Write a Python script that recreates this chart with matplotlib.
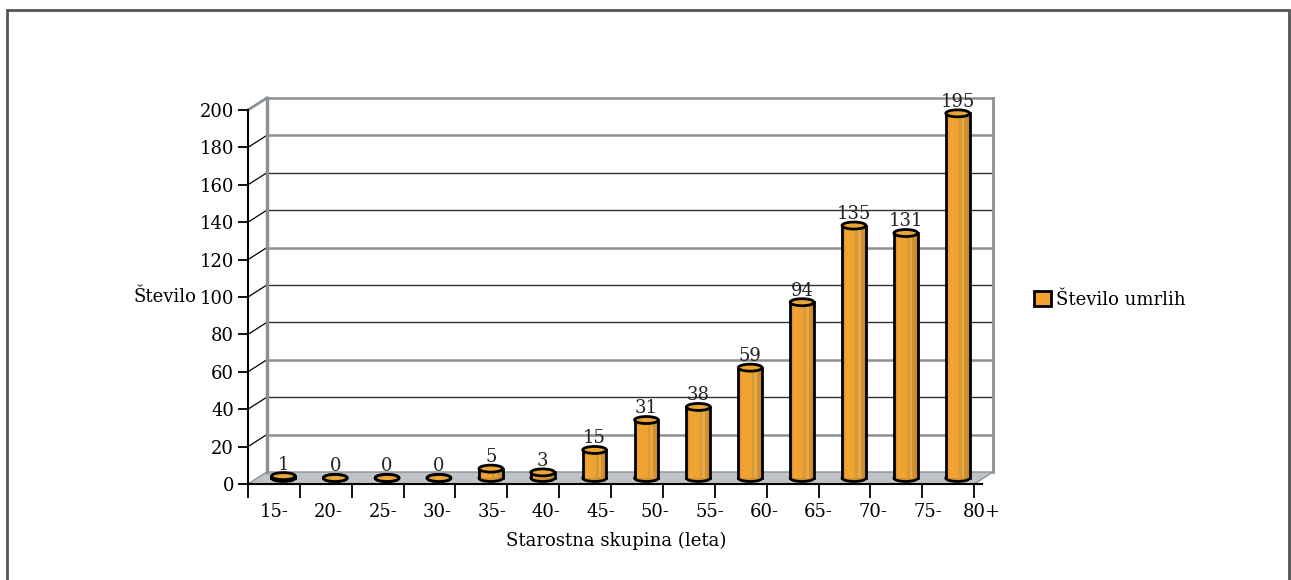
import numpy as np
import matplotlib.pyplot as plt
from matplotlib.patches import Rectangle, Ellipse, Polygon, Patch

# Podatki
skupine = ['15-', '20-', '25-', '30-', '35-', '40-', '45-', '50-', '55-',
           '60-', '65-', '70-', '75-', '80+']
umrli = [1, 0, 0, 0, 5, 3, 15, 31, 38, 59, 94, 135, 131, 195]
ime_serije = 'Število umrlih'

plt.rcParams['font.family'] = ['DejaVu Serif']
fs = 13

W, H = 1291, 580
fig = plt.figure(figsize=(W / 100, H / 100), dpi=100)
# sprednja ravnina grafa v pikslih
x0, x1, y0, y1 = 248, 982, 110, 484
ax = fig.add_axes([x0 / W, 1 - y1 / H, (x1 - x0) / W, (y1 - y0) / H])
n = len(skupine)
ax.set_xlim(0, n)
ax.set_ylim(0, 200)
ppx = (x1 - x0) / n
ppy = (y1 - y0) / 200
dx = 19 / ppx      # globina v x
dy = 12 / ppy      # globina v y

siva = '#8c9196'
# tla
ax.add_patch(Polygon([(0, 0), (n, 0), (n + dx, dy), (dx, dy)], closed=True,
                     facecolor='#bfc3c8', edgecolor=siva, lw=1, clip_on=False, zorder=1))
# zadnja stena in mreža
for v in range(20, 201, 20):
    c = siva if v in (200, 180, 120, 60, 20) else '#303030'
    lw = 1.8 if c == siva else 1.0
    ax.plot([dx, n + dx], [v + dy, v + dy], color=c, lw=lw, clip_on=False, zorder=1)
    ax.plot([0, dx], [v, v + dy], color='black' if v < 200 else siva, lw=0.9 if v < 200 else 2,
            clip_on=False, zorder=1)
ax.plot([dx, dx], [dy, 200 + dy], color=siva, lw=2.5, clip_on=False, zorder=1)
ax.plot([n + dx, n + dx], [dy, 200 + dy], color=siva, lw=2, clip_on=False, zorder=1)

# valji
w = 24 / ppx
eh = 7 / ppy
trakovi = ['#e0962a', '#efa131', '#f1a434', '#f0a333', '#eea232', '#d89a35',
           '#e8a848', '#d0922f', '#c88a2e']
for i, v in enumerate(umrli):
    cx = i + 0.5 + dx / 2
    cy = dy / 2
    ax.add_patch(Ellipse((cx, cy), w, eh, facecolor='#d08f2e', edgecolor='black',
                         lw=2, clip_on=False, zorder=3))
    if v > 0:
        sw = w / len(trakovi)
        for k, c in enumerate(trakovi):
            ax.add_patch(Rectangle((cx - w / 2 + k * sw, cy), sw * 1.02, v, facecolor=c,
                                   edgecolor='none', clip_on=False, zorder=4))
        ax.plot([cx - w / 2, cx - w / 2], [cy, cy + v], color='black', lw=2,
                clip_on=False, zorder=5)
        ax.plot([cx + w / 2, cx + w / 2], [cy, cy + v], color='black', lw=2,
                clip_on=False, zorder=5)
    ax.add_patch(Ellipse((cx, cy + v), w, eh, facecolor='#eba535', edgecolor='black',
                         lw=2, clip_on=False, zorder=6))
    ax.text(cx, cy + v + eh / 2 - 0.5, str(v), ha='center', va='bottom', fontsize=fs,
            color='#222222', zorder=7)

# osi
for s in ['top', 'right']:
    ax.spines[s].set_visible(False)
ax.spines['left'].set_linewidth(1.5)
ax.spines['bottom'].set_linewidth(1.5)
ax.spines['left'].set_zorder(2)
ax.spines['bottom'].set_zorder(2)
ax.set_yticks(range(0, 201, 20))
ax.tick_params(axis='y', length=7, width=1.3, labelsize=fs, pad=3)
ax.xaxis.remove_overlapping_locs = False
ax.set_xticks(np.arange(0, n + 1))
ax.set_xticklabels([])
ax.tick_params(axis='x', which='major', length=10, width=1.3)
ax.set_xticks(0.5 + np.arange(n) * 1.05, minor=True)
ax.set_xticklabels(skupine, minor=True, fontsize=fs)
ax.tick_params(axis='x', which='minor', length=0, pad=14)
ax.patch.set_visible(False)

fig.text(165 / W, 1 - 297 / H, 'Število', ha='center', va='center', fontsize=fs)
fig.text(616 / W, 1 - 541 / H, 'Starostna skupina (leta)', ha='center', va='center', fontsize=fs)

fig.legend(handles=[Patch(facecolor='#f2a42e', edgecolor='black', lw=2, label=ime_serije)],
           loc='center left', bbox_to_anchor=(1018 / W, 1 - 300 / H), frameon=False,
           fontsize=fs, handlelength=0.9, handleheight=0.9, handletextpad=0.3)

# okvir
fig.add_artist(Rectangle((7 / W, -0.1), (1289 - 7) / W, 1.1 - 10 / H, transform=fig.transFigure,
                         fill=False, edgecolor='#555555', lw=2))

fig.savefig('out.png', dpi=100)
